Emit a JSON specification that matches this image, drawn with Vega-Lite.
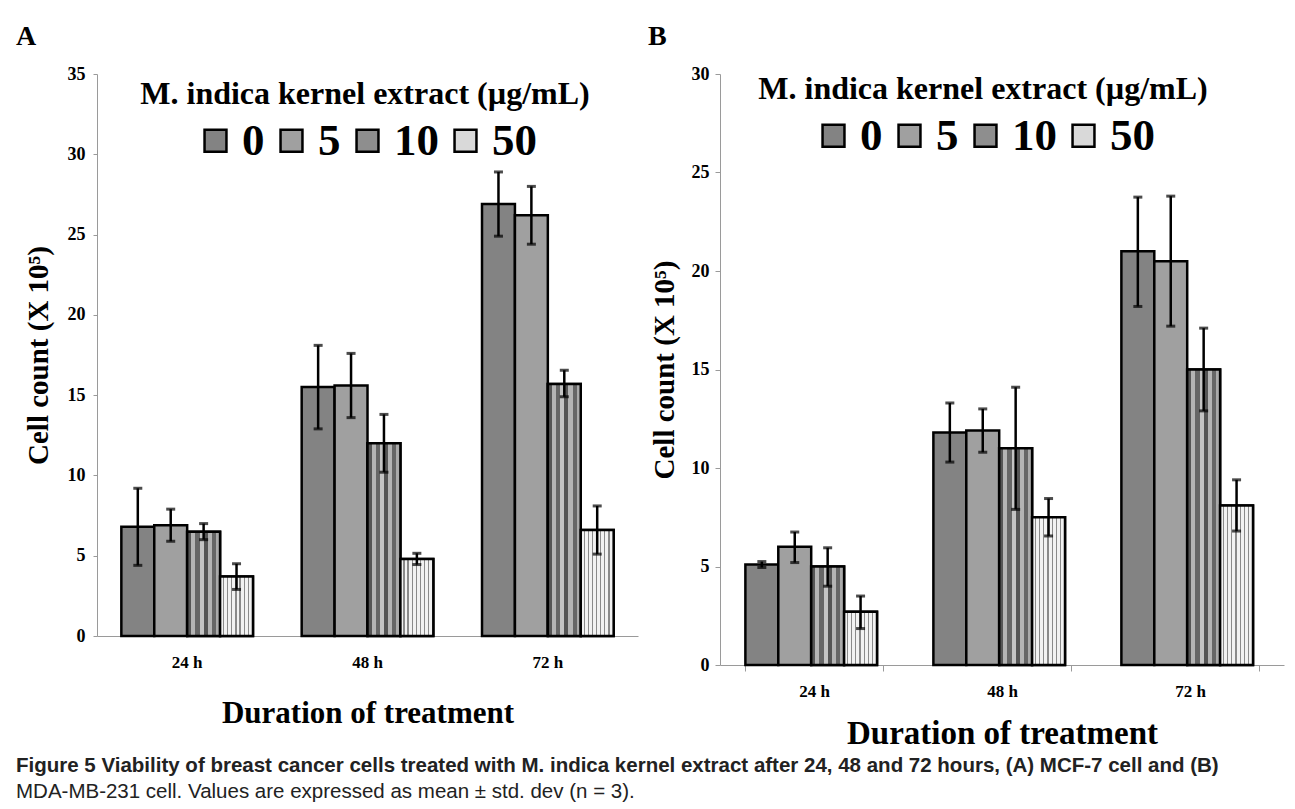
{
  "$schema": "https://vega.github.io/schema/vega-lite/v6.json",
  "background": "white",
  "padding": {"left": 16, "top": 23, "right": 8, "bottom": 4},
  "config": {
    "font": "Liberation Serif",
    "view": {"stroke": null},
    "axis": {"labelFont": "Liberation Serif", "labelFontWeight": "bold", "labelColor": "black", "titleFont": "Liberation Serif", "titleFontWeight": "bold", "titleColor": "black", "grid": false, "domainColor": "#9a9a9a", "tickColor": "#9a9a9a"},
    "legend": {"titleFont": "Liberation Serif", "labelFont": "Liberation Serif"}
  },
  "title": {
    "text": "Figure 5 Viability of breast cancer cells treated with M. indica kernel extract after 24, 48 and 72 hours, (A) MCF-7 cell and (B)",
    "subtitle": "MDA-MB-231 cell. Values are expressed as mean ± std. dev (n = 3).",
    "orient": "bottom",
    "anchor": "start",
    "font": "Liberation Sans",
    "fontSize": 20.5,
    "fontWeight": "bold",
    "color": "#222",
    "subtitleFont": "Liberation Sans",
    "subtitleFontSize": 20.5,
    "subtitleColor": "#222",
    "subtitlePadding": 5,
    "offset": 6
  },
  "data": {"values": [
    {"panel": "A", "time": "24 h", "dose": "0", "mean": 6.8, "lo": 4.4, "hi": 9.2},
    {"panel": "A", "time": "24 h", "dose": "5", "mean": 6.9, "lo": 5.9, "hi": 7.9},
    {"panel": "A", "time": "24 h", "dose": "10", "mean": 6.5, "lo": 6.0, "hi": 7.0},
    {"panel": "A", "time": "24 h", "dose": "50", "mean": 3.7, "lo": 2.9, "hi": 4.5},
    {"panel": "A", "time": "48 h", "dose": "0", "mean": 15.5, "lo": 12.9, "hi": 18.1},
    {"panel": "A", "time": "48 h", "dose": "5", "mean": 15.6, "lo": 13.6, "hi": 17.6},
    {"panel": "A", "time": "48 h", "dose": "10", "mean": 12.0, "lo": 10.2, "hi": 13.8},
    {"panel": "A", "time": "48 h", "dose": "50", "mean": 4.8, "lo": 4.45, "hi": 5.15},
    {"panel": "A", "time": "72 h", "dose": "0", "mean": 26.9, "lo": 24.9, "hi": 28.9},
    {"panel": "A", "time": "72 h", "dose": "5", "mean": 26.2, "lo": 24.4, "hi": 28.0},
    {"panel": "A", "time": "72 h", "dose": "10", "mean": 15.7, "lo": 14.9, "hi": 16.55},
    {"panel": "A", "time": "72 h", "dose": "50", "mean": 6.6, "lo": 5.1, "hi": 8.1},
    {"panel": "B", "time": "24 h", "dose": "0", "mean": 5.1, "lo": 4.95, "hi": 5.25},
    {"panel": "B", "time": "24 h", "dose": "5", "mean": 6.0, "lo": 5.2, "hi": 6.75},
    {"panel": "B", "time": "24 h", "dose": "10", "mean": 5.0, "lo": 4.0, "hi": 5.95},
    {"panel": "B", "time": "24 h", "dose": "50", "mean": 2.7, "lo": 1.85, "hi": 3.5},
    {"panel": "B", "time": "48 h", "dose": "0", "mean": 11.8, "lo": 10.3, "hi": 13.3},
    {"panel": "B", "time": "48 h", "dose": "5", "mean": 11.9, "lo": 10.8, "hi": 13.0},
    {"panel": "B", "time": "48 h", "dose": "10", "mean": 11.0, "lo": 7.9, "hi": 14.1},
    {"panel": "B", "time": "48 h", "dose": "50", "mean": 7.5, "lo": 6.55, "hi": 8.45},
    {"panel": "B", "time": "72 h", "dose": "0", "mean": 21.0, "lo": 18.2, "hi": 23.75},
    {"panel": "B", "time": "72 h", "dose": "5", "mean": 20.5, "lo": 17.2, "hi": 23.8},
    {"panel": "B", "time": "72 h", "dose": "10", "mean": 15.0, "lo": 12.9, "hi": 17.1},
    {"panel": "B", "time": "72 h", "dose": "50", "mean": 8.1, "lo": 6.8, "hi": 9.4}
  ]},
  "spacing": 10,
  "resolve": {"scale": {"color": "independent", "y": "independent", "x": "independent"}, "legend": {"color": "independent"}},
  "hconcat": [
    {
      "width": 541,
      "height": 562,
      "title": {"text": "A", "anchor": "start", "frame": "group", "dx": -81, "fontSize": 28, "fontWeight": "bold", "font": "Liberation Serif", "offset": 14},
      "transform": [{"filter": "datum.panel === 'A'"}],
      "encoding": {
        "x": {"field": "time", "type": "nominal", "scale": {"paddingInner": 0.27, "paddingOuter": 0.135}, "axis": {"title": "Duration of treatment", "labelAngle": 0, "labelFontSize": 17, "labelPadding": 18, "ticks": false, "titleFontSize": 31, "titlePadding": 28}},
        "xOffset": {"field": "dose", "type": "nominal", "sort": ["0", "5", "10", "50"], "scale": {"domain": ["0", "5", "10", "50"], "paddingInner": 0, "paddingOuter": 0}},
        "y": {"field": "mean", "type": "quantitative", "scale": {"domain": [0, 35]}, "axis": {"title": "Cell count (X 10⁵)", "values": [0, 5, 10, 15, 20, 25, 30, 35], "labelFontSize": 18, "labelPadding": 8, "tickSize": 4, "titleFontSize": 29, "titlePadding": 14}}
      },
      "layer": [
        {
          "mark": {"type": "bar", "stroke": "black", "strokeWidth": 2.5, "fillOpacity": 1},
          "encoding": {
            "color": {"field": "dose", "type": "nominal", "sort": ["0", "5", "10", "50"],
              "scale": {"domain": ["0", "5", "10", "50"], "range": ["#838383", "#a0a0a0", "#8e8e8e", "#d9d9d9"]},
              "legend": {"title": "M. indica kernel extract (µg/mL)", "orient": "none", "legendX": 43, "legendY": 5, "direction": "horizontal", "titleFontSize": 32, "titleFontWeight": "bold", "titleColor": "black", "titleLimit": 800, "titleAnchor": "middle", "titlePadding": 7, "labelFontSize": 45, "labelFontWeight": "bold", "labelColor": "black", "labelOffset": 4, "symbolType": "square", "symbolSize": 480, "symbolStrokeColor": "black", "symbolStrokeWidth": 2.5, "symbolOpacity": 1, "columnPadding": 4}
            }
          }
        },
        {
          "transform": [{"filter": "datum.dose === '10'"}],
          "mark": {"type": "bar", "stroke": "black", "strokeWidth": 2.5, "fill": {"gradient": "linear", "x1": 0, "y1": 0, "x2": 1, "y2": 0, "stops": [
            {"offset": 0, "color": "#555"}, {"offset": 0.125, "color": "#555"}, {"offset": 0.125, "color": "#b4b4b4"}, {"offset": 0.25, "color": "#b4b4b4"},
            {"offset": 0.25, "color": "#666"}, {"offset": 0.375, "color": "#666"}, {"offset": 0.375, "color": "#c4c4c4"}, {"offset": 0.5, "color": "#c4c4c4"},
            {"offset": 0.5, "color": "#555"}, {"offset": 0.625, "color": "#555"}, {"offset": 0.625, "color": "#b4b4b4"}, {"offset": 0.75, "color": "#b4b4b4"},
            {"offset": 0.75, "color": "#666"}, {"offset": 0.875, "color": "#666"}, {"offset": 0.875, "color": "#aaa"}, {"offset": 1, "color": "#aaa"}]}},
          "encoding": {}
        },
        {
          "transform": [{"filter": "datum.dose === '50'"}],
          "mark": {"type": "bar", "stroke": "black", "strokeWidth": 2.5, "fill": {"gradient": "linear", "x1": 0, "y1": 0, "x2": 1, "y2": 0, "stops": [
            {"offset": 0, "color": "#f2f2f2"}, {"offset": 0.09, "color": "#f2f2f2"}, {"offset": 0.09, "color": "#8a8a8a"}, {"offset": 0.125, "color": "#8a8a8a"},
            {"offset": 0.125, "color": "#f2f2f2"}, {"offset": 0.215, "color": "#f2f2f2"}, {"offset": 0.215, "color": "#8a8a8a"}, {"offset": 0.25, "color": "#8a8a8a"},
            {"offset": 0.25, "color": "#f2f2f2"}, {"offset": 0.34, "color": "#f2f2f2"}, {"offset": 0.34, "color": "#8a8a8a"}, {"offset": 0.375, "color": "#8a8a8a"},
            {"offset": 0.375, "color": "#f2f2f2"}, {"offset": 0.465, "color": "#f2f2f2"}, {"offset": 0.465, "color": "#8a8a8a"}, {"offset": 0.5, "color": "#8a8a8a"},
            {"offset": 0.5, "color": "#f2f2f2"}, {"offset": 0.59, "color": "#f2f2f2"}, {"offset": 0.59, "color": "#8a8a8a"}, {"offset": 0.625, "color": "#8a8a8a"},
            {"offset": 0.625, "color": "#f2f2f2"}, {"offset": 0.715, "color": "#f2f2f2"}, {"offset": 0.715, "color": "#8a8a8a"}, {"offset": 0.75, "color": "#8a8a8a"},
            {"offset": 0.75, "color": "#f2f2f2"}, {"offset": 0.84, "color": "#f2f2f2"}, {"offset": 0.84, "color": "#8a8a8a"}, {"offset": 0.875, "color": "#8a8a8a"},
            {"offset": 0.875, "color": "#f2f2f2"}, {"offset": 1, "color": "#f2f2f2"}]}},
          "encoding": {}
        },
        {"mark": {"type": "rule", "color": "black", "strokeWidth": 2.5}, "encoding": {"y": {"field": "lo", "type": "quantitative"}, "y2": {"field": "hi"}}},
        {"mark": {"type": "tick", "color": "black", "thickness": 3, "size": 9}, "encoding": {"y": {"field": "lo", "type": "quantitative"}}},
        {"mark": {"type": "tick", "color": "black", "thickness": 3, "size": 9}, "encoding": {"y": {"field": "hi", "type": "quantitative"}}}
      ]
    },
    {
      "width": 564,
      "height": 591,
      "title": {"text": "B", "anchor": "start", "frame": "group", "dx": -72, "fontSize": 28, "fontWeight": "bold", "font": "Liberation Serif", "offset": 14},
      "transform": [{"filter": "datum.panel === 'B'"}],
      "encoding": {
        "x": {"field": "time", "type": "nominal", "scale": {"paddingInner": 0.27, "paddingOuter": 0.135}, "axis": {"title": "Duration of treatment", "labelAngle": 0, "labelFontSize": 17, "labelPadding": 12, "ticks": true, "tickBand": "extent", "tickSize": 6, "titleFontSize": 33, "titlePadding": 18}},
        "xOffset": {"field": "dose", "type": "nominal", "sort": ["0", "5", "10", "50"], "scale": {"domain": ["0", "5", "10", "50"], "paddingInner": 0, "paddingOuter": 0}},
        "y": {"field": "mean", "type": "quantitative", "scale": {"domain": [0, 30]}, "axis": {"title": "Cell count (X 10⁵)", "values": [0, 5, 10, 15, 20, 25, 30], "labelFontSize": 18, "labelPadding": 6, "tickSize": 5, "titleFontSize": 29, "titlePadding": 12}}
      },
      "layer": [
        {
          "mark": {"type": "bar", "stroke": "black", "strokeWidth": 2.5, "fillOpacity": 1},
          "encoding": {
            "color": {"field": "dose", "type": "nominal", "sort": ["0", "5", "10", "50"],
              "scale": {"domain": ["0", "5", "10", "50"], "range": ["#838383", "#a0a0a0", "#8e8e8e", "#d9d9d9"]},
              "legend": {"title": "M. indica kernel extract (µg/mL)", "orient": "none", "legendX": 38, "legendY": 0, "direction": "horizontal", "titleFontSize": 32, "titleFontWeight": "bold", "titleColor": "black", "titleLimit": 800, "titleAnchor": "middle", "titlePadding": 7, "labelFontSize": 45, "labelFontWeight": "bold", "labelColor": "black", "labelOffset": 4, "symbolType": "square", "symbolSize": 480, "symbolStrokeColor": "black", "symbolStrokeWidth": 2.5, "symbolOpacity": 1, "columnPadding": 4}
            }
          }
        },
        {
          "transform": [{"filter": "datum.dose === '10'"}],
          "mark": {"type": "bar", "stroke": "black", "strokeWidth": 2.5, "fill": {"gradient": "linear", "x1": 0, "y1": 0, "x2": 1, "y2": 0, "stops": [
            {"offset": 0, "color": "#555"}, {"offset": 0.125, "color": "#555"}, {"offset": 0.125, "color": "#b4b4b4"}, {"offset": 0.25, "color": "#b4b4b4"},
            {"offset": 0.25, "color": "#666"}, {"offset": 0.375, "color": "#666"}, {"offset": 0.375, "color": "#c4c4c4"}, {"offset": 0.5, "color": "#c4c4c4"},
            {"offset": 0.5, "color": "#555"}, {"offset": 0.625, "color": "#555"}, {"offset": 0.625, "color": "#b4b4b4"}, {"offset": 0.75, "color": "#b4b4b4"},
            {"offset": 0.75, "color": "#666"}, {"offset": 0.875, "color": "#666"}, {"offset": 0.875, "color": "#aaa"}, {"offset": 1, "color": "#aaa"}]}},
          "encoding": {}
        },
        {
          "transform": [{"filter": "datum.dose === '50'"}],
          "mark": {"type": "bar", "stroke": "black", "strokeWidth": 2.5, "fill": {"gradient": "linear", "x1": 0, "y1": 0, "x2": 1, "y2": 0, "stops": [
            {"offset": 0, "color": "#f2f2f2"}, {"offset": 0.09, "color": "#f2f2f2"}, {"offset": 0.09, "color": "#8a8a8a"}, {"offset": 0.125, "color": "#8a8a8a"},
            {"offset": 0.125, "color": "#f2f2f2"}, {"offset": 0.215, "color": "#f2f2f2"}, {"offset": 0.215, "color": "#8a8a8a"}, {"offset": 0.25, "color": "#8a8a8a"},
            {"offset": 0.25, "color": "#f2f2f2"}, {"offset": 0.34, "color": "#f2f2f2"}, {"offset": 0.34, "color": "#8a8a8a"}, {"offset": 0.375, "color": "#8a8a8a"},
            {"offset": 0.375, "color": "#f2f2f2"}, {"offset": 0.465, "color": "#f2f2f2"}, {"offset": 0.465, "color": "#8a8a8a"}, {"offset": 0.5, "color": "#8a8a8a"},
            {"offset": 0.5, "color": "#f2f2f2"}, {"offset": 0.59, "color": "#f2f2f2"}, {"offset": 0.59, "color": "#8a8a8a"}, {"offset": 0.625, "color": "#8a8a8a"},
            {"offset": 0.625, "color": "#f2f2f2"}, {"offset": 0.715, "color": "#f2f2f2"}, {"offset": 0.715, "color": "#8a8a8a"}, {"offset": 0.75, "color": "#8a8a8a"},
            {"offset": 0.75, "color": "#f2f2f2"}, {"offset": 0.84, "color": "#f2f2f2"}, {"offset": 0.84, "color": "#8a8a8a"}, {"offset": 0.875, "color": "#8a8a8a"},
            {"offset": 0.875, "color": "#f2f2f2"}, {"offset": 1, "color": "#f2f2f2"}]}},
          "encoding": {}
        },
        {"mark": {"type": "rule", "color": "black", "strokeWidth": 2.5}, "encoding": {"y": {"field": "lo", "type": "quantitative"}, "y2": {"field": "hi"}}},
        {"mark": {"type": "tick", "color": "black", "thickness": 3, "size": 9}, "encoding": {"y": {"field": "lo", "type": "quantitative"}}},
        {"mark": {"type": "tick", "color": "black", "thickness": 3, "size": 9}, "encoding": {"y": {"field": "hi", "type": "quantitative"}}}
      ]
    }
  ]
}
